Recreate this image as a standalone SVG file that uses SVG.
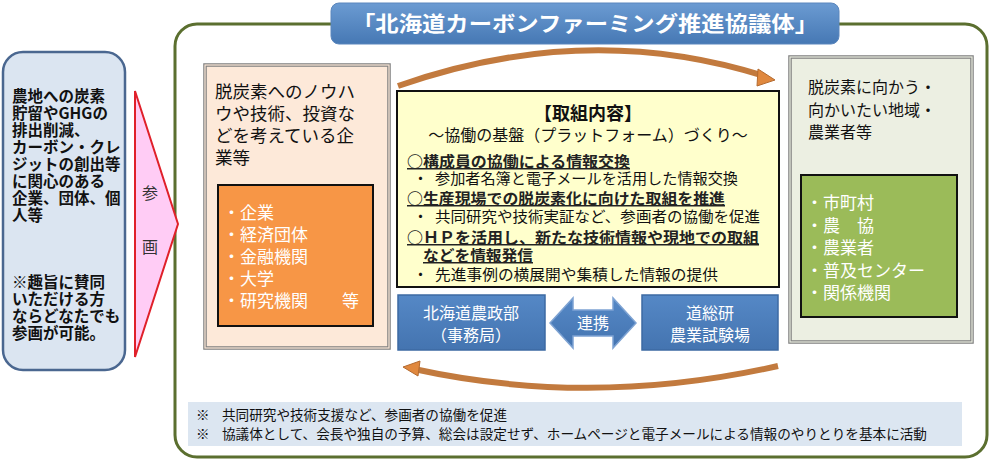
<svg xmlns="http://www.w3.org/2000/svg" width="996" height="464" viewBox="0 0 996 464">
<style>
text{font-family:"Noto Sans CJK JP","Liberation Sans",sans-serif;}
.blk{fill:#111;}
.wht{fill:#fff;}
.h{font-weight:bold;text-decoration:underline;font-size:15px;fill:#222;}
.b{font-size:15px;fill:#111;}
.lst{font-size:17px;fill:#fff;}
.note{font-size:13.5px;fill:#111;}
</style>
<defs>
<linearGradient id="gTitle" x1="0" y1="0" x2="0" y2="1">
<stop offset="0" stop-color="#6b9bd2"/><stop offset="1" stop-color="#4678b4"/>
</linearGradient>
<linearGradient id="gBlue" x1="0" y1="0" x2="0" y2="1">
<stop offset="0" stop-color="#5588c6"/><stop offset="1" stop-color="#4474b0"/>
</linearGradient>
</defs>

<!-- outer frame -->
<g id="frame">
<rect x="175" y="24" width="812" height="433" rx="22" fill="#fff" stroke="#5b6f2f" stroke-width="3"/>
</g>

<!-- title -->
<g id="title">
<rect x="331" y="3" width="508" height="41" rx="8" fill="url(#gTitle)" stroke="#5a86bd" stroke-width="1"/>
<text x="585" y="31" text-anchor="middle" font-size="21" font-weight="bold" class="wht" textLength="466" lengthAdjust="spacingAndGlyphs">「北海道カーボンファーミング推進協議体」</text>
</g>

<!-- left participant box -->
<g id="participants">
<rect x="3" y="52" width="122" height="318" rx="20" fill="#dbe5f1" stroke="#4a6790" stroke-width="2.5"/>
<text font-size="15.5" font-weight="bold" class="blk">
<tspan x="12" y="102">農地への炭素</tspan>
<tspan x="12" y="119">貯留やGHGの</tspan>
<tspan x="12" y="136">排出削減、</tspan>
<tspan x="12" y="153">カーボン・クレ</tspan>
<tspan x="12" y="170">ジットの創出等</tspan>
<tspan x="12" y="187">に関心のある</tspan>
<tspan x="12" y="204">企業、団体、個</tspan>
<tspan x="12" y="221">人等</tspan>
<tspan x="12" y="288">※趣旨に賛同</tspan>
<tspan x="12" y="305">いただける方</tspan>
<tspan x="12" y="322">ならどなたでも</tspan>
<tspan x="12" y="339">参画が可能。</tspan>
</text>
</g>

<!-- connectors -->
<g id="connectors">
<g id="sankaku">
<polygon points="135,91 178,224 135,357" fill="#ffccf5" stroke="#e0202a" stroke-width="2"/>
<text x="150" y="199" text-anchor="middle" font-size="16" fill="#333">参</text>
<text x="150" y="253" text-anchor="middle" font-size="16" fill="#333">画</text>
</g>
<g id="arc-top">
<path d="M 398 86 Q 586 20 764 76" fill="none" stroke="#c27a3e" stroke-width="6"/>
<polygon points="758,69 775,80 757,86" fill="#e0883e" stroke="#b36a30" stroke-width="1"/>
</g>
<g id="arc-bottom">
<path d="M 414 369 Q 592 408 778 366" fill="none" stroke="#c27a3e" stroke-width="6"/>
<polygon points="420,361 403,367 418,376" fill="#e0883e" stroke="#b36a30" stroke-width="1"/>
</g>
<g id="renkei">
<polygon points="550,323 573,298 573,310 613,310 613,298 636,323 613,348 613,336 573,336 573,348" fill="url(#gBlue)" stroke="#7ea3d3" stroke-width="1.5"/>
<text x="593" y="329" text-anchor="middle" font-size="16" class="wht">連携</text>
</g>
</g>

<!-- companies box -->
<g id="companies">
<rect x="205" y="65" width="184" height="283" fill="#fde9d9" stroke="#7f7f7f" stroke-width="3.5"/>
<rect x="205" y="65" width="184" height="283" fill="none" stroke="#fde9d9" stroke-width="1.2"/>
<text font-size="17.5" class="blk">
<tspan x="215" y="98">脱炭素へのノウハ</tspan>
<tspan x="215" y="120">ウや技術、投資な</tspan>
<tspan x="215" y="142">どを考えている企</tspan>
<tspan x="215" y="164">業等</tspan>
</text>
<rect x="218" y="185" width="155" height="141" fill="#f79646" stroke="#111" stroke-width="2"/>
<text class="lst">
<tspan x="223" y="219">・企業</tspan>
<tspan x="223" y="241">・経済団体</tspan>
<tspan x="223" y="263">・金融機関</tspan>
<tspan x="223" y="285">・大学</tspan>
<tspan x="223" y="307">・研究機関　　等</tspan>
</text>
</g>

<!-- activity box -->
<g id="activities">
<rect x="397" y="91" width="382" height="196" fill="#ffffcc" stroke="#111" stroke-width="2"/>
<text x="588" y="120" text-anchor="middle" font-size="18" font-weight="bold" class="blk">【取組内容】</text>
<text x="588" y="141" text-anchor="middle" font-size="16" class="blk">～協働の基盤（プラットフォーム）づくり～</text>
<text x="407" y="167" class="h" textLength="223" lengthAdjust="spacingAndGlyphs">○構成員の協働による情報交換</text>
<text x="413" y="184" class="b">・</text>
<text x="435" y="184" class="b" textLength="303" lengthAdjust="spacingAndGlyphs">参加者名簿と電子メールを活用した情報交換</text>
<text x="407" y="204" class="h" textLength="318" lengthAdjust="spacingAndGlyphs">○生産現場での脱炭素化に向けた取組を推進</text>
<text x="413" y="222" class="b">・</text>
<text x="435" y="222" class="b" textLength="325" lengthAdjust="spacingAndGlyphs">共同研究や技術実証など、参画者の協働を促進</text>
<text x="407" y="243" class="h" textLength="352" lengthAdjust="spacingAndGlyphs">○ＨＰを活用し、新たな技術情報や現地での取組</text>
<text x="423" y="261" class="h" textLength="110" lengthAdjust="spacingAndGlyphs">などを情報発信</text>
<text x="413" y="280" class="b">・</text>
<text x="435" y="280" class="b" textLength="283" lengthAdjust="spacingAndGlyphs">先進事例の横展開や集積した情報の提供</text>
</g>

<!-- secretariat -->
<g id="secretariat">
<rect x="398" y="295" width="147" height="55" fill="url(#gBlue)" stroke="#3d6aa3" stroke-width="1.5"/>
<text x="471" y="319" text-anchor="middle" font-size="16" class="wht">北海道農政部</text>
<text x="471" y="341" text-anchor="middle" font-size="16" class="wht">（事務局）</text>
</g>

<!-- experiment station -->
<g id="station">
<rect x="642" y="295" width="136" height="55" fill="url(#gBlue)" stroke="#3d6aa3" stroke-width="1.5"/>
<text x="710" y="319" text-anchor="middle" font-size="16" class="wht">道総研</text>
<text x="710" y="341" text-anchor="middle" font-size="16" class="wht">農業試験場</text>
</g>

<!-- regions box -->
<g id="regions">
<rect x="790" y="57" width="182" height="285" fill="#ecefe2" stroke="#7f7f7f" stroke-width="3.5"/>
<rect x="790" y="57" width="182" height="285" fill="none" stroke="#ecefe2" stroke-width="1.2"/>
<text font-size="16" class="blk">
<tspan x="808" y="93">脱炭素に向かう・</tspan>
<tspan x="808" y="116">向かいたい地域・</tspan>
<tspan x="808" y="138">農業者等</tspan>
</text>
<rect x="801" y="175" width="156" height="142" fill="#9bbb59" stroke="#111" stroke-width="2"/>
<text class="lst">
<tspan x="806" y="209">・市町村</tspan>
<tspan x="806" y="231.5">・農　協</tspan>
<tspan x="806" y="254">・農業者</tspan>
<tspan x="806" y="276.5">・普及センター</tspan>
<tspan x="806" y="299">・関係機関</tspan>
</text>
</g>

<!-- notes -->
<g id="notes">
<rect x="188" y="402" width="774" height="44" fill="#dce6f1"/>
<text x="196" y="420" class="note">※</text>
<text x="222" y="420" class="note" textLength="285" lengthAdjust="spacingAndGlyphs">共同研究や技術支援など、参画者の協働を促進</text>
<text x="196" y="439" class="note">※</text>
<text x="222" y="439" class="note" textLength="705" lengthAdjust="spacingAndGlyphs">協議体として、会長や独自の予算、総会は設定せず、ホームページと電子メールによる情報のやりとりを基本に活動</text>
</g>
</svg>
